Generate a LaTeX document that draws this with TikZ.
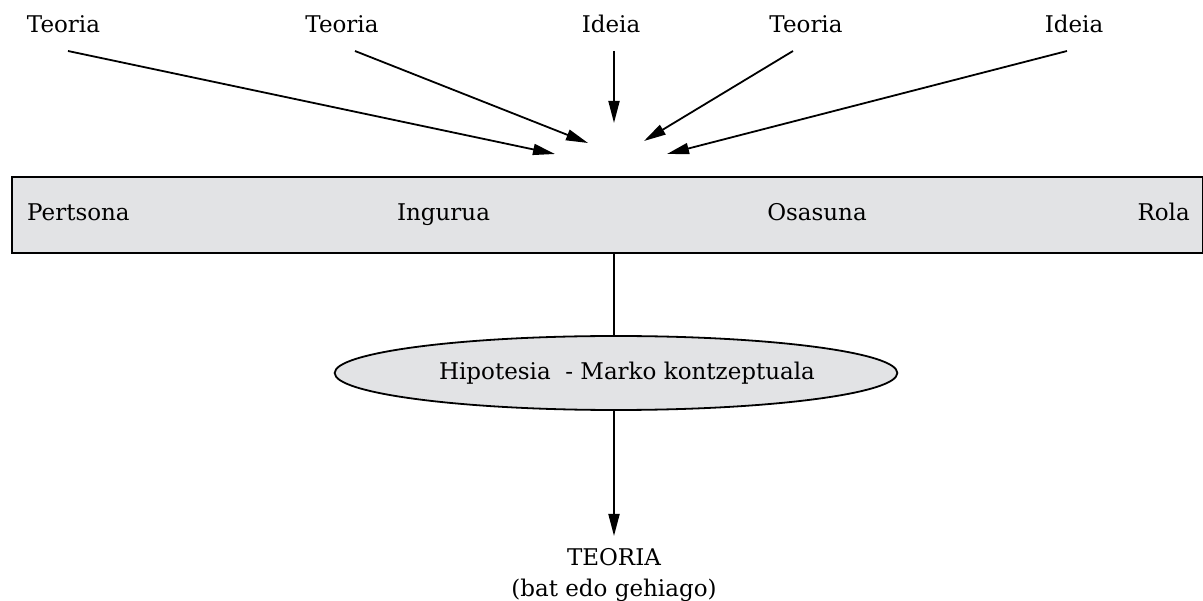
\documentclass[tikz,border=0pt]{standalone}
\usepackage{fontspec}
\setmainfont{DejaVu Serif}
\usetikzlibrary{arrows.meta,shapes.geometric}
\definecolor{panel}{HTML}{E2E3E5}
\begin{document}
\begin{tikzpicture}[x=1pt,y=-1pt,
  txt/.style={font=\fontsize{23}{31}\selectfont, inner sep=0pt},
  lbl/.style={txt, anchor=base},
  arr/.style={-{Triangle[length=22pt,width=11pt]}, line width=1.8pt},
  link/.style={line width=1.8pt}]
\useasboundingbox (0,0) rectangle (1203,601);

% sources along the top
\node[lbl] (t1) at (63.5,33) {Teoria};
\node[lbl] (t2) at (342,33)  {Teoria};
\node[lbl] (t3) at (611,33)  {Ideia};
\node[lbl] (t4) at (806,33)  {Teoria};
\node[lbl] (t5) at (1074,33) {Ideia};

% arrow ends
\coordinate (a1s) at (68,51);   \coordinate (a1t) at (555,154);
\coordinate (a2s) at (355,51);  \coordinate (a2t) at (588,143);
\coordinate (a3s) at (614,51);  \coordinate (a3t) at (614,123);
\coordinate (a4s) at (793,51);  \coordinate (a4t) at (644,141);
\coordinate (a5s) at (1067,51); \coordinate (a5t) at (667,154);

\draw[arr] (a1s) -- (a1t);
\draw[arr] (a2s) -- (a2t);
\draw[arr] (a3s) -- (a3t);
\draw[arr] (a4s) -- (a4t);
\draw[arr] (a5s) -- (a5t);

% the band of dimensions
\node[draw, line width=1.8pt, fill=panel, minimum width=1191pt, minimum height=76pt,
      inner sep=0pt, anchor=north west] (band) at (10.7,176) {};
\node[lbl, anchor=base west] (d1) at (27,221)   {Pertsona};
\node[lbl]                   (d2) at (443.5,221) {Ingurua};
\node[lbl]                   (d3) at (817,221)  {Osasuna};
\node[lbl, anchor=base east] (d4) at (1190,221) {Rola};

% hypothesis ellipse
\node[txt, ellipse, draw, line width=1.8pt, fill=panel, minimum width=562pt,
      minimum height=74pt] (hyp) at (616,373)
      {\hspace*{22pt}Hipotesia\ \ - Marko kontzeptuala};

% result
\node[txt, align=center, anchor=north] (theory) at (614,548) {TEORIA\\(bat edo gehiago)};

\draw[link] (hyp.north -| theory.north) -- (theory.north |- band.south);
\draw[arr] (hyp.south -| theory.north) -- ([yshift=12pt]theory.north);
\end{tikzpicture}
\end{document}
